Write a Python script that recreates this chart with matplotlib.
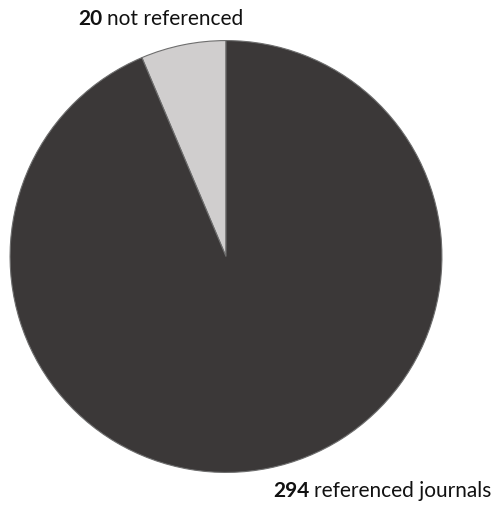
import matplotlib
matplotlib.use("Agg")
import matplotlib.pyplot as plt

labels = ["not referenced", "referenced journals"]
counts = [20, 294]
colors = ["#d0cece", "#3b3838"]

W, H = 502, 506
fig = plt.figure(figsize=(W / 100, H / 100), dpi=100)

# pie box in pixels: left 9, right 443, top 40, bottom 475
ax = fig.add_axes([9 / W, 1 - 475 / H, 434 / W, 435 / H])
ax.pie(counts, colors=colors, startangle=90, counterclock=True,
       wedgeprops=dict(edgecolor="#6e6e6e", linewidth=0.8))
ax.set_aspect("equal")
ax.set_xlim(-1.005, 1.005)
ax.set_ylim(-1.005, 1.005)
ax.axis("off")

plt.rcParams["font.family"] = ["Lato", "DejaVu Sans"]
fs = 15
renderer = fig.canvas.get_renderer()


def label(x, y, num, txt):
    t = fig.text(x / W, 1 - y / H, str(num), fontsize=fs, fontweight="bold",
                 color="#111111", va="baseline", ha="left")
    bb = t.get_window_extent(renderer)
    fig.text(bb.x1 / W + 5 / W, 1 - y / H, txt, fontsize=fs,
             color="#111111", va="baseline", ha="left")


label(78, 25, counts[0], labels[0])
label(273, 497, counts[1], labels[1])

fig.savefig("out.png", dpi=100, facecolor="white")
